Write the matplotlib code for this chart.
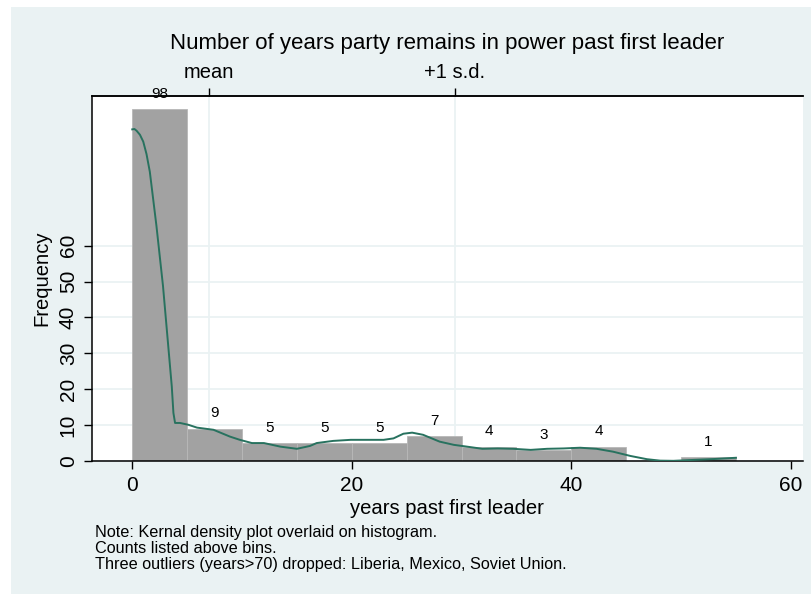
import matplotlib.pyplot as plt
from matplotlib.patches import Rectangle

plt.rcParams['font.family'] = ['Liberation Sans', 'DejaVu Sans']

# histogram bins (width 5) and counts
bin_left = [0, 5, 10, 15, 20, 25, 30, 35, 40, 45, 50]
counts = [98, 9, 5, 5, 5, 7, 4, 3, 4, 0, 1]
bin_width = 5

# kernel density curve (scaled to frequency)
kd_x = [0.0, 0.2, 0.4, 0.7, 1.0, 1.3, 1.6, 2.2, 2.8, 3.6, 3.75, 3.9, 4.35, 5.1, 5.9,
        7.4, 8.9, 9.8, 10.9, 12.0, 13.5, 15.0, 16.2, 16.8, 18.3, 19.9, 21.4, 22.9,
        23.8, 24.7, 25.5, 26.5, 28.0, 29.3, 30.5, 31.9, 33.3, 34.7, 36.3, 37.8,
        39.3, 40.8, 42.3, 43.8, 45.4, 46.9, 48.1, 49.3, 51.1, 53.0, 55.0]
kd_y = [92.4, 92.5, 92.0, 90.9, 89.0, 85.5, 80.6, 65.6, 48.8, 20.8, 13.4, 10.6,
        10.6, 10.1, 9.3, 8.7, 6.8, 5.9, 5.0, 5.0, 4.0, 3.4, 4.2, 5.0, 5.6, 5.9,
        5.9, 5.9, 6.3, 7.6, 7.9, 7.3, 5.4, 4.5, 4.0, 3.4, 3.5, 3.4, 3.1, 3.4, 3.5,
        3.7, 3.4, 2.6, 1.4, 0.5, 0.1, 0.05, 0.3, 0.55, 0.9]

# mean and +1 s.d. markers on the top axis
ref_pos = [6.96, 29.4]
ref_labels = ['mean', '+1 s.d.']

notes = ["Note: Kernal density plot overlaid on histogram.",
         "Counts listed above bins.",
         "Three outliers (years>70) dropped: Liberia, Mexico, Soviet Union."]

bg = '#eaf2f3'
fig = plt.figure(figsize=(8.11, 5.94), dpi=100)
fig.patches.append(Rectangle((11 / 811, 0), 1, 1 - 7 / 594, transform=fig.transFigure,
                             facecolor=bg, edgecolor='none', zorder=-10))

ax = fig.add_axes([0.113, 0.2239, 0.877, 0.6145])
ax.set_facecolor('white')

# grid
for yv in range(0, 70, 10):
    ax.axhline(yv, color=bg, lw=1.3, zorder=0)
for xv in ref_pos:
    ax.axvline(xv, color=bg, lw=1.3, zorder=0)

ax.bar(bin_left, counts, width=bin_width, align='edge', color='#a2a2a2',
       edgecolor='#b8b8b8', linewidth=0.6, zorder=2)
ax.plot(kd_x, kd_y, color='#28725f', lw=1.4, zorder=3)

for xl, c in zip(bin_left, counts):
    if c > 0:
        ax.annotate(str(c), (xl + bin_width / 2, c), xytext=(0, 6),
                    textcoords='offset points', ha='center', va='bottom',
                    fontsize=11, clip_on=False, zorder=4)

ax.set_xlim(-3.7, 61.1)
ax.set_ylim(0, 101.7)
ax.set_xticks([0, 20, 40, 60])
ax.set_yticks(range(0, 70, 10))
ax.set_yticklabels([str(v) for v in range(0, 70, 10)], rotation=90, va='center')
ax.tick_params(axis='both', direction='out', length=6, width=1, labelsize=15, pad=4)
ax.tick_params(axis='x', pad=5)
ax.spines['right'].set_visible(False)
for s in ['left', 'bottom', 'top']:
    ax.spines[s].set_linewidth(1.1)

ax.set_xlabel('years past first leader', fontsize=14.6, labelpad=3)
ax.set_ylabel('Frequency', fontsize=14.6, labelpad=5)

top = ax.secondary_xaxis('top')
top.set_xticks(ref_pos)
top.set_xticklabels(ref_labels)
top.tick_params(direction='out', length=6, width=1, labelsize=14.5, pad=4)
top.spines['top'].set_linewidth(1.1)

fig.text(0.551, 1 - 43 / 594, 'Number of years party remains in power past first leader',
         ha='center', va='center', fontsize=16)

for i, line in enumerate(notes):
    fig.text(95 / 811, 1 - (532 + 16.3 * i) / 594, line, ha='left', va='center', fontsize=11.7)

fig.savefig('out.png', dpi=100)
